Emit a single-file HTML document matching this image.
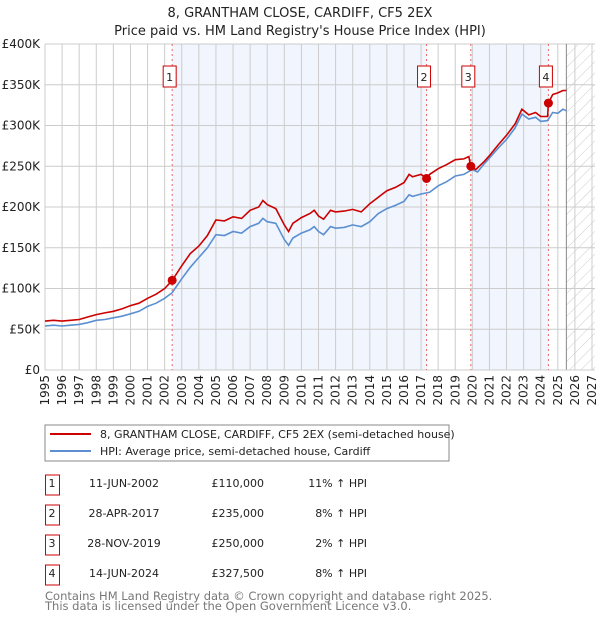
<!DOCTYPE html>
<html><head><meta charset="utf-8"><style>
body{margin:0;background:#fff;font-family:"DejaVu Sans","Liberation Sans",sans-serif}
svg text{font-family:"DejaVu Sans","Liberation Sans",sans-serif}
</style></head><body>
<svg id="c" width="600" height="620" viewBox="0 0 600 620">
<defs><pattern id="hatch" width="8" height="8" patternUnits="userSpaceOnUse" patternTransform="rotate(45)"><line x1="0" y1="0" x2="0" y2="8" stroke="#ccc" stroke-width="1"/></pattern></defs>
<text x="300" y="17" text-anchor="middle" font-size="13" fill="#222">8, GRANTHAM CLOSE, CARDIFF, CF5 2EX</text>
<text x="300" y="35" text-anchor="middle" font-size="13" fill="#222">Price paid vs. HM Land Registry's House Price Index (HPI)</text>
<g id="plot"></g>
<rect x="45" y="425" width="404" height="36" fill="#fff" stroke="#888"/>
<line x1="50" y1="434" x2="91" y2="434" stroke="#cc0000" stroke-width="2"/>
<text x="100" y="438" font-size="11" fill="#222">8, GRANTHAM CLOSE, CARDIFF, CF5 2EX (semi-detached house)</text>
<line x1="50" y1="451" x2="91" y2="451" stroke="#5b8fd1" stroke-width="2"/>
<text x="100" y="455" font-size="11" fill="#222">HPI: Average price, semi-detached house, Cardiff</text>
<g id="table"></g>
<text x="45" y="600" font-size="11.5" fill="#777">Contains HM Land Registry data © Crown copyright and database right 2025.</text>
<text x="45" y="610" font-size="11.5" fill="#777">This data is licensed under the Open Government Licence v3.0.</text>
</svg>
<script>
const hpiT=[1995,1995.5,1996,1996.5,1997,1997.5,1998,1998.5,1999,1999.5,2000,2000.5,2001,2001.5,2002,2002.44,2003,2003.5,2004,2004.5,2005,2005.5,2006,2006.5,2007,2007.5,2007.75,2008,2008.5,2009,2009.25,2009.5,2010,2010.5,2010.75,2011,2011.3,2011.7,2012,2012.5,2013,2013.5,2014,2014.5,2015,2015.5,2016,2016.3,2016.5,2017,2017.5,2018,2018.5,2019,2019.5,2020,2020.3,2020.7,2021,2021.5,2022,2022.5,2022.9,2023.3,2023.7,2024,2024.4,2024.7,2025,2025.3,2025.5];
const hpiV=[54,55,54,55,56,58,61,62,64,66,69,72,78,82,88,95,112,126,138,150,166,165,170,168,176,180,186,182,180,160,153,162,168,172,176,170,166,176,174,175,178,176,182,192,198,202,207,215,213,216,218,226,231,238,240,246,243,253,260,272,283,297,314,308,310,305,306,316,315,320,318];
const propT=[1995,1995.5,1996,1996.5,1997,1997.5,1998,1998.5,1999,1999.5,2000,2000.5,2001,2001.5,2002,2002.44,2003,2003.5,2004,2004.5,2005,2005.5,2006,2006.5,2007,2007.5,2007.75,2008,2008.5,2009,2009.25,2009.5,2010,2010.5,2010.75,2011,2011.3,2011.7,2012,2012.5,2013,2013.5,2014,2014.5,2015,2015.5,2016,2016.3,2016.5,2017,2017.32,2017.5,2018,2018.5,2019,2019.5,2019.8,2019.9,2020.2,2020.7,2021,2021.5,2022,2022.5,2022.9,2023.3,2023.7,2024,2024.4,2024.45,2024.7,2025,2025.3,2025.5];
const propV=[60,61,60,61,62,65,68,70,72,75,79,82,88,93,100,110,128,143,152,165,184,183,188,186,196,200,208,203,198,178,170,180,187,192,196,189,185,196,194,195,197,194,204,212,220,224,230,240,237,240,235,240,247,252,258,259,262,250,246,256,263,276,288,302,320,313,316,311,311,327.5,338,340,343,343];
const saleT=[2002.44,2017.32,2019.91,2024.45];
const saleV=[110,235,250,327.5];
const saleLabels=["1","2","3","4"];
const saleDates=["11-JUN-2002","28-APR-2017","28-NOV-2019","14-JUN-2024"];
const salePrices=["£110,000","£235,000","£250,000","£327,500"];
const saleHpi=["11% ↑ HPI","8% ↑ HPI","2% ↑ HPI","8% ↑ HPI"];
const yTicks=[0,50,100,150,200,250,300,350,400];
const yTickLabels=["£0","£50K","£100K","£150K","£200K","£250K","£300K","£350K","£400K"];
const xYears=[1995,1996,1997,1998,1999,2000,2001,2002,2003,2004,2005,2006,2007,2008,2009,2010,2011,2012,2013,2014,2015,2016,2017,2018,2019,2020,2021,2022,2023,2024,2025,2026,2027];
const forecastStart=2025.5;
const NS="http://www.w3.org/2000/svg";
const X0=45,X1=592,Y0=370,Y1=44;
const xs=t=>X0+(t-1995)/(2027-1995)*(X1-X0);
const ys=v=>Y0-v/400*(Y0-Y1);
function mk(tag,attrs,parent){const e=document.createElementNS(NS,tag);for(const k in attrs)e.setAttribute(k,attrs[k]);parent.appendChild(e);return e;}
const g=document.getElementById('plot');
for(let i=0;i<saleT.length-1;i+=2){
  const r=mk('rect',{x:xs(saleT[i]),y:Y1,width:xs(saleT[i+1])-xs(saleT[i]),height:Y0-Y1,fill:'#eef3fc',opacity:0.8},g);
  
  
}
const hr=mk('rect',{x:xs(forecastStart),y:Y1,width:X1+3-xs(forecastStart),height:Y0-Y1,fill:'url(#hatch)'},g);


xYears.forEach(y=>{
  const l=mk('line',{x1:xs(y),y1:Y1,x2:xs(y),y2:Y0,stroke:'#ccc','stroke-width':1},g);
  
  
  const t=mk('text',{x:0,y:0,'font-size':12,fill:'#222','text-anchor':'end',transform:`translate(${xs(y)+4},${Y0+5}) rotate(-90)`},g);
  t.textContent=y;
  
  
});
yTicks.forEach((v,i)=>{
  const l=mk('line',{x1:X0,y1:ys(v),x2:X1+3,y2:ys(v),stroke:'#ccc','stroke-width':1},g);
  
  
  const t=mk('text',{x:X0-5,y:ys(v)+4,'font-size':12,fill:'#222','text-anchor':'end'},g);
  t.textContent=yTickLabels[i];
  
  
});
const fl=mk('line',{x1:xs(forecastStart),y1:Y1,x2:xs(forecastStart),y2:Y0,stroke:'#888','stroke-width':1},g);


const ax=mk('line',{x1:X0,y1:Y0,x2:X1+3,y2:Y0,stroke:'#ccc'},g);


saleT.forEach((t,i)=>{
  const l=mk('line',{x1:xs(t),y1:Y1,x2:xs(t),y2:Y0,stroke:'#e66','stroke-width':1,'stroke-dasharray':'2,3'},g);
  
  
});
function path(T,V){return T.map((t,i)=>(i?'L':'M')+xs(t).toFixed(1)+','+ys(V[i]).toFixed(1)).join('');}
const hp=mk('path',{d:path(hpiT,hpiV),fill:'none',stroke:'#5b8fd1','stroke-width':1.6},g);


const pp=mk('path',{d:path(propT,propV),fill:'none',stroke:'#cc0000','stroke-width':1.6},g);


saleT.forEach((t,i)=>{
  const c=mk('circle',{cx:xs(t),cy:ys(saleV[i]),r:4.5,fill:'#cc0000'},g);
  
  
  const b=mk('rect',{x:xs(t)-9,y:66,width:13,height:21,fill:'#fff',stroke:'#cc0000'},g);
  
  
  const tx=mk('text',{x:xs(t)-2.5,y:81,'font-size':11,'text-anchor':'middle',fill:'#222'},g);
  tx.textContent=saleLabels[i];
  
  
});
const tb=document.getElementById('table');
saleT.forEach((t,i)=>{
  const y=487+i*30;
  const b=mk('rect',{x:45.5,y:y-12,width:14,height:20,fill:'#fff',stroke:'#cc0000'},tb);
  
  
  const cells=[[52,'middle',saleLabels[i]],[124,'middle',saleDates[i]],[264,'end',salePrices[i]],[367,'end',saleHpi[i]]];
  cells.forEach(c=>{const e=mk('text',{x:c[0],y:y,'font-size':11,'text-anchor':c[1],fill:'#222'},tb);e.textContent=c[2];
    
    });
});
</script>
</body></html>
